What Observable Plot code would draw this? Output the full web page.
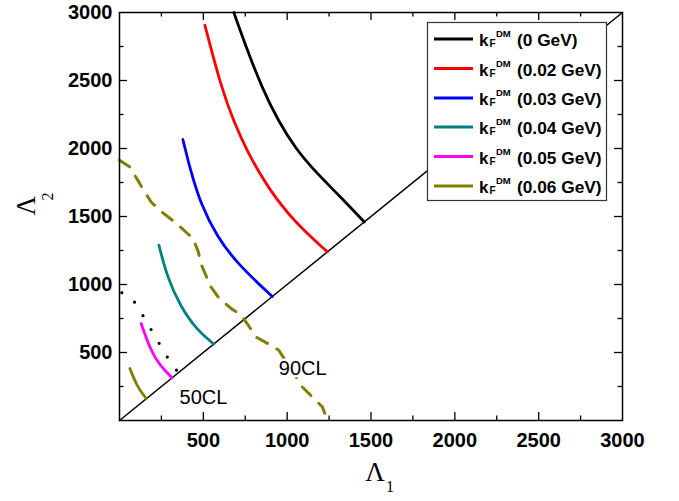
<!DOCTYPE html>
<html>
<head>
<meta charset="utf-8">
<script src="https://cdn.jsdelivr.net/npm/d3@7"></script>
<script src="https://cdn.jsdelivr.net/npm/@observablehq/plot@0.6"></script>
<style>
  html, body { margin: 0; padding: 0; background: #fff; }
  #chart { width: 679px; height: 501px; }
  #chart svg g[aria-label="x-axis tick label"],
  #chart svg g[aria-label="y-axis tick label"] { font-weight: bold; }
</style>
</head>
<body>
<div id="chart"></div>
<script>
// ---------- data ----------
const xTickLabels = [500, 1000, 1500, 2000, 2500, 3000];
const yTickLabels = [500, 1000, 1500, 2000, 2500, 3000];
const majorTicks = [500, 1000, 1500, 2000, 2500];
const minorTicks = [250, 750, 1250, 1750, 2250, 2750];

const legendLabels = ["(0 GeV)", "(0.02 GeV)", "(0.03 GeV)", "(0.04 GeV)", "(0.05 GeV)", "(0.06 GeV)"];
const seriesColors = ["#000000", "#ff0000", "#0000ff", "#008080", "#ff00ff", "#808000"];

const k000 = [[682, 3000], [751, 2760], [851, 2441], [950, 2196], [1050, 2000], [1169, 1828], [1308, 1657], [1460, 1460]];
const k002 = [[509, 2907], [608, 2443], [683, 2193], [763, 1973], [886, 1708], [1044, 1458], [1240, 1240]];
const k003 = [[378, 2066], [423, 1840], [483, 1596], [582, 1350], [702, 1154], [911, 911]];
const k004 = [[235, 1289], [284, 1056], [364, 835], [463, 664], [562, 562]];
const k005 = [[129, 713], [185, 517], [240, 405], [314, 314]];
const k006 = [[62, 382], [106, 247], [160, 160]];

const cl50 = [[14, 940], [82, 885], [135, 781], [185, 676], [234, 573], [284, 468], [340, 370], [352, 352]];
const cl90 = [[0, 1914], [60, 1865], [110, 1765], [144, 1693], [190, 1605], [245, 1540], [320, 1468], [375, 1410],
  [440, 1335], [470, 1240], [485, 1154], [515, 1068], [545, 982], [595, 897], [670, 820], [725, 774], [775, 688],
  [812, 615], [900, 555], [950, 517], [1090, 247], [1140, 186], [1210, 100], [1240, 0]];

const diagonal = [[0, 0], [3000, 3000]];
const clTexts = [{x: 358, y: 125, t: "50CL"}, {x: 950, y: 338, t: "90CL"}];

// ---------- build ----------
const solidSeries = [k000, k002, k003, k004, k005, k006];
const rows = [];
solidSeries.forEach((s, i) => s.forEach(([x, y]) => rows.push({x, y, s: i})));

const innerH = 501 - 12 - 81;
const innerW = 679 - 119 - 57;
const sans = "'Liberation Sans', Arial, Helvetica, sans-serif";
const serif = "'Liberation Serif', 'Times New Roman', serif";
const fmt = d => String(d);

const chart = Plot.plot({
  width: 679,
  height: 501,
  marginLeft: 119,
  marginRight: 57,
  marginTop: 12,
  marginBottom: 81,
  x: {domain: [0, 3000]},
  y: {domain: [0, 3000]},
  style: {fontFamily: sans, background: "white", color: "black"},
  marks: [
    Plot.line(diagonal, {x: d => d[0], y: d => d[1], stroke: "black", strokeWidth: 1.5}),
    Plot.line(cl90, {x: d => d[0], y: d => d[1], stroke: "#808000", strokeWidth: 3, strokeDasharray: "12 11"}),
    Plot.line(cl50, {x: d => d[0], y: d => d[1], stroke: "black", strokeWidth: 3.2, strokeDasharray: "0 16", strokeLinecap: "round"}),
    Plot.line(rows, {x: "x", y: "y", z: "s", stroke: d => seriesColors[d.s], strokeWidth: 2.8, curve: "basis"}),
    Plot.text(clTexts, {x: "x", y: "y", text: "t", textAnchor: "start", lineAnchor: "bottom", fontSize: 20,
      fill: "black", stroke: "white", strokeWidth: 5, paintOrder: "stroke"}),
    // inward ticks on all four sides
    Plot.tickX(majorTicks, {x: d => d, insetTop: innerH - 8, strokeWidth: 1.3}),
    Plot.tickX(majorTicks, {x: d => d, insetBottom: innerH - 8, strokeWidth: 1.3}),
    Plot.tickX(minorTicks, {x: d => d, insetTop: innerH - 4.5, strokeWidth: 1.3}),
    Plot.tickX(minorTicks, {x: d => d, insetBottom: innerH - 4.5, strokeWidth: 1.3}),
    Plot.tickY(majorTicks, {y: d => d, insetRight: innerW - 8, strokeWidth: 1.3}),
    Plot.tickY(majorTicks, {y: d => d, insetLeft: innerW - 8, strokeWidth: 1.3}),
    Plot.tickY(minorTicks, {y: d => d, insetRight: innerW - 4.5, strokeWidth: 1.3}),
    Plot.tickY(minorTicks, {y: d => d, insetLeft: innerW - 4.5, strokeWidth: 1.3}),
    Plot.axisX({ticks: xTickLabels, tickFormat: fmt, tickSize: 0, tickPadding: 12, fontSize: 20, fontWeight: "bold", label: null, fontFamily: sans}),
    Plot.axisY({ticks: yTickLabels, tickFormat: fmt, tickSize: 0, tickPadding: 7, fontSize: 20, fontWeight: "bold", label: null, fontFamily: sans}),
    Plot.frame({stroke: "black", strokeWidth: 1.5}),
    // axis titles
    Plot.text(["Λ"], {frameAnchor: "bottom", text: d => d, dx: 4, dy: 52, fontSize: 27, fontFamily: serif, lineAnchor: "middle"}),
    Plot.text(["1"], {frameAnchor: "bottom", text: d => d, dx: 19, dy: 66, fontSize: 16, fontFamily: serif, lineAnchor: "middle"}),
    Plot.text(["Λ"], {frameAnchor: "left", text: d => d, dx: -93, dy: -1, rotate: -90, fontSize: 27, fontFamily: serif, lineAnchor: "middle"}),
    Plot.text(["2"], {frameAnchor: "left", text: d => d, dx: -72, dy: -16, rotate: -90, fontSize: 16, fontFamily: serif, lineAnchor: "middle"})
  ]
});

document.getElementById("chart").appendChild(chart);

// ---------- legend (inside the SVG) ----------
const svg = d3.select(chart);
const lg = svg.append("g").attr("class", "legend").attr("text-anchor", "start");
lg.append("rect").attr("x", 427.5).attr("y", 22.5).attr("width", 179).attr("height", 178)
  .attr("fill", "white").attr("stroke", "#333").attr("stroke-width", 1.2);
const rowY = [39, 68.5, 98, 127, 156.5, 186];
legendLabels.forEach((lab, i) => {
  const cy = rowY[i];
  lg.append("line").attr("x1", 434).attr("x2", 473).attr("y1", cy).attr("y2", cy)
    .attr("stroke", seriesColors[i]).attr("stroke-width", 3);
  const base = cy + 7;
  const t = (x, y, size, s) => lg.append("text").attr("x", x).attr("y", y).attr("text-anchor", "start")
    .attr("font-family", sans).attr("font-weight", "bold").attr("font-size", size).attr("fill", "black").text(s);
  t(479, base, 17, "k");
  t(489.5, base + 1, 10, "F");
  t(496, base - 9, 9.5, "DM");
  t(517, base, 17.3, lab);
});
</script>
</body>
</html>
